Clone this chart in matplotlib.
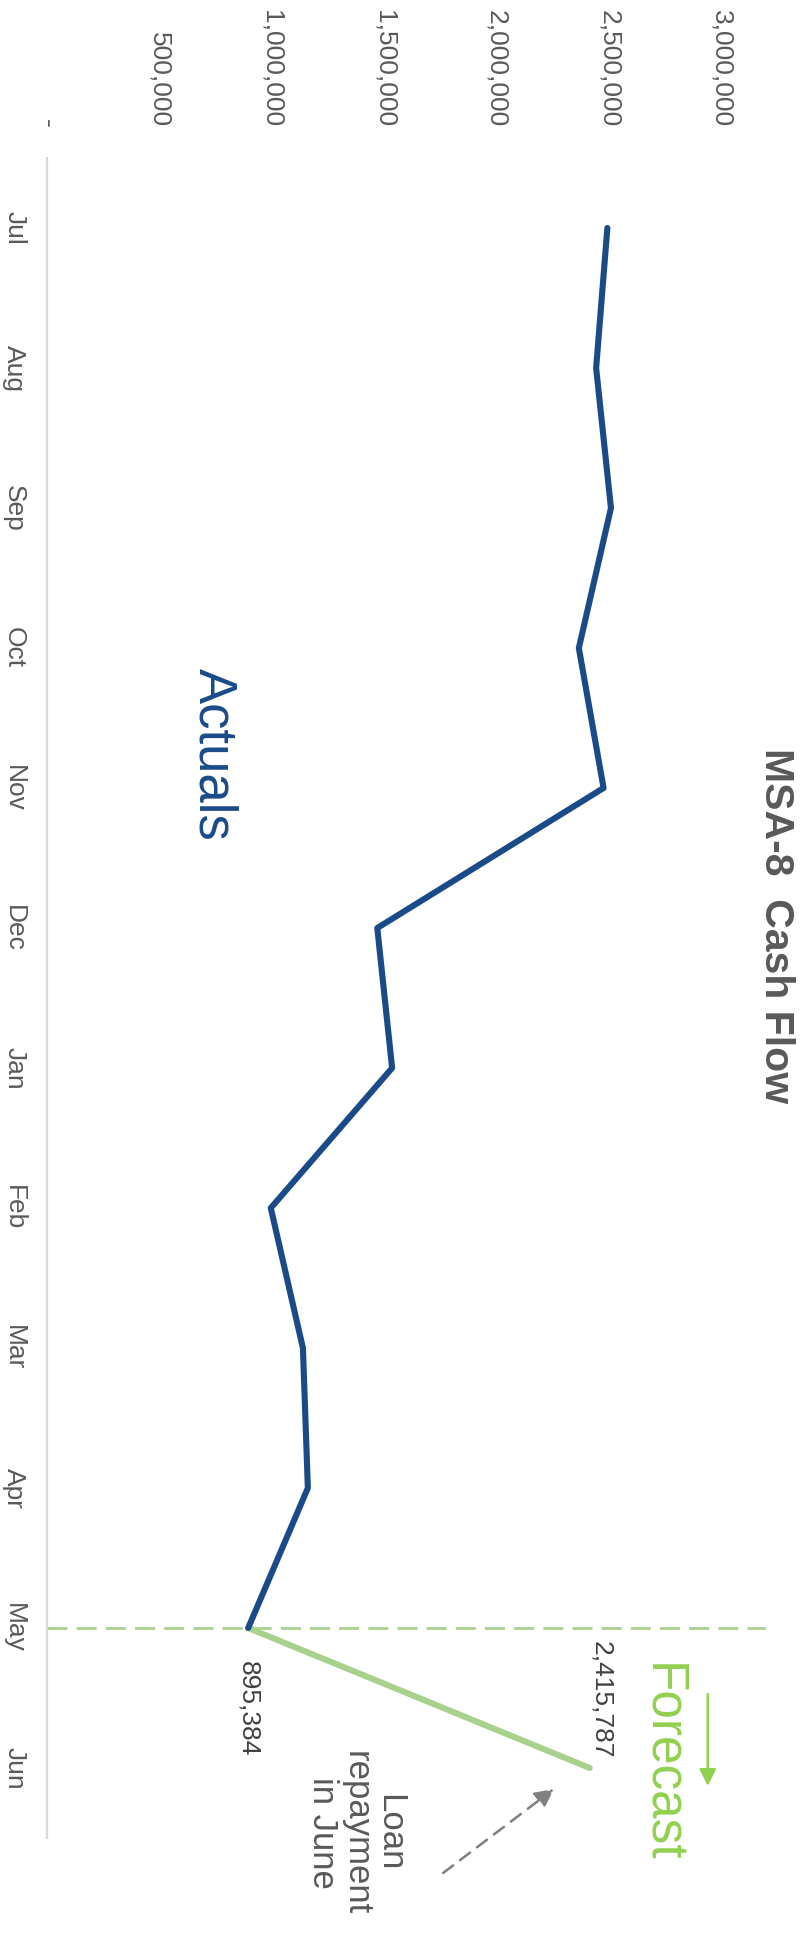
import matplotlib
matplotlib.use('Agg')
import matplotlib.pyplot as plt
from matplotlib.ticker import FuncFormatter

plt.rcParams['font.family'] = ['Liberation Sans', 'DejaVu Sans']

# Monthly cash balance (Jul..Jun); last month is the forecast
months = ['Jul', 'Aug', 'Sep', 'Oct', 'Nov', 'Dec', 'Jan', 'Feb', 'Mar', 'Apr', 'May', 'Jun']
actuals = [2494000, 2444000, 2510000, 2367000, 2477000, 1470000,
           1536000, 996000, 1139000, 1161000, 895384]
forecast_months = ['May', 'Jun']
forecast = [895384, 2415787]
value_ticks = [0, 500000, 1000000, 1500000, 2000000, 2500000, 3000000]

BLUE = '#1B4A89'
GREEN_LINE = '#A9D18E'
GREEN_TEXT = '#92D050'
GREY = '#595959'

W, H = 806, 1937
fig = plt.figure(figsize=(W / 100, H / 100), dpi=100)
# chart is drawn turned a quarter turn clockwise: values run left->right,
# months run top->bottom
ax = fig.add_axes([47 / W, 1 - 1838 / H, 719 / W, 1680 / H])

idx = {m: i for i, m in enumerate(months)}
ax.plot(actuals, [idx[m] for m in months[:len(actuals)]], color=BLUE, lw=4.4,
        solid_joinstyle='round', solid_capstyle='round', zorder=3)
ax.plot(forecast, [idx[m] for m in forecast_months], color=GREEN_LINE, lw=4.4,
        solid_capstyle='round', zorder=2)

# dashed divider at the last actual month
ax.axhline(idx['May'], color=GREEN_LINE, lw=2, dashes=[7.2, 3.3], zorder=1)

ax.set_xlim(0, 3200000)
ax.set_ylim(len(months) - 0.5, -0.5)

for s in ['top', 'right', 'bottom']:
    ax.spines[s].set_visible(False)
ax.spines['left'].set_color('#D9D9D9')
ax.spines['left'].set_linewidth(1.6)

# value axis along the top
ax.xaxis.tick_top()
ax.set_xticks(value_ticks)
ax.xaxis.set_major_formatter(FuncFormatter(lambda v, p: '-' if v == 0 else '{:,.0f}'.format(v)))
ax.tick_params(axis='x', length=0, pad=22, labelsize=19, labelcolor=GREY, labelrotation=-90)

ax.set_yticks(range(len(months)))
ax.set_yticklabels(months)
ax.tick_params(axis='y', length=0, pad=15, labelsize=19, labelcolor=GREY, labelrotation=-90)
for lab in ax.get_yticklabels():
    lab.set_va('center')

# data labels
ax.annotate('{:,.0f}'.format(forecast[0]), xy=(forecast[0], idx['May']),
            xytext=(0, -24), textcoords='offset points', rotation=-90,
            rotation_mode='anchor', ha='left', va='center', fontsize=19, color='#404040')
ax.annotate('{:,.0f}'.format(forecast[1]), xy=(forecast[1], idx['Jun']),
            xytext=(8, 7), textcoords='offset points', rotation=-90,
            rotation_mode='anchor', ha='right', va='center', fontsize=19, color='#404040')

# title and annotations
fig.text(776 / W, 1 - 926 / H, 'MSA-8  Cash Flow', rotation=-90, ha='center', va='center',
         fontsize=29.5, fontweight='bold', color=GREY)
ax.text(0.232, 0.645, 'Actuals', transform=ax.transAxes, rotation=-90,
        ha='center', va='center', fontsize=38, color=BLUE)
ax.text(0.855, 0.0446, 'Forecast', transform=ax.transAxes, rotation=-90,
        ha='center', va='center', fontsize=37, color=GREEN_TEXT)
ax.text(0.43, 0.003, 'Loan\nrepayment\nin June', transform=ax.transAxes, rotation=-90,
        ha='center', va='center', multialignment='center', fontsize=25,
        color=GREY, linespacing=1.02)

ax.annotate('', xy=(0.919, 0.031), xytext=(0.919, 0.0857), xycoords='axes fraction',
            arrowprops=dict(arrowstyle='-|>', mutation_scale=25, color=GREEN_TEXT,
                            lw=1.8, shrinkA=0, shrinkB=0))
ax.annotate('', xy=(0.705, 0.0292), xytext=(0.551, -0.0208), xycoords='axes fraction',
            annotation_clip=False,
            arrowprops=dict(arrowstyle='-|>', mutation_scale=28, color='#7F7F7F',
                            lw=1.8, linestyle=(0, (5, 3.5)), shrinkA=0, shrinkB=0))

fig.savefig('out.png', dpi=100)
